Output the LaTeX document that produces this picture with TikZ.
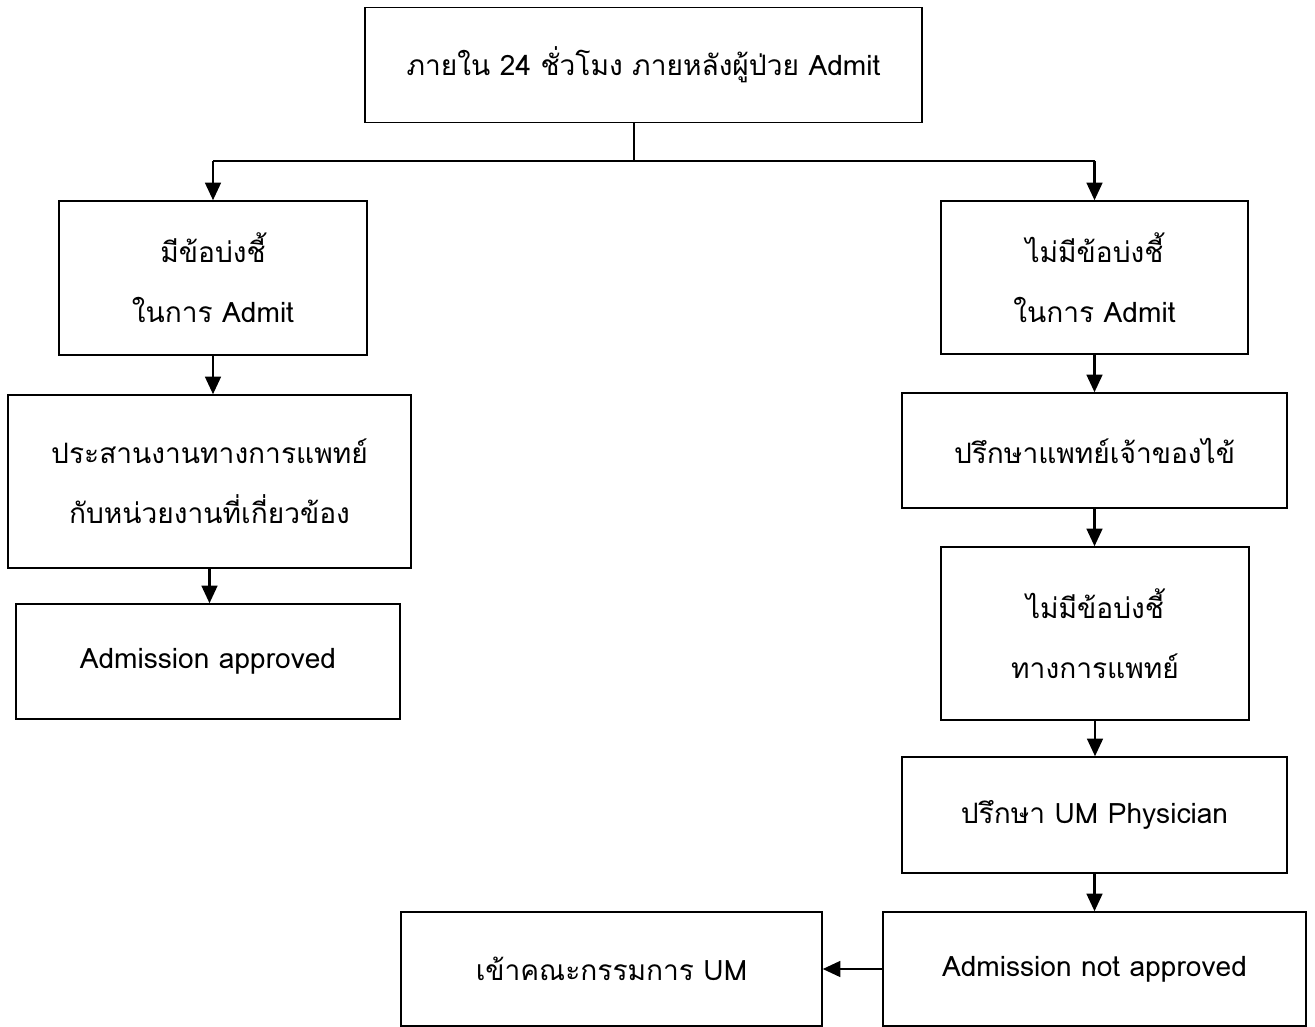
\documentclass[tikz,border=0pt]{standalone}
\usepackage{fontspec}
\usepackage{tikz}
\usetikzlibrary{positioning, arrows.meta}
\newfontfamily\thaifont[Script=Thai]{Loma}

\begin{document}
\begin{tikzpicture}[x=0.02cm, y=-0.02cm,
    box/.style={draw, line width=0.9pt, align=center, inner sep=0pt,
        font=\thaifont\fontsize{16}{34}\selectfont},
    flow/.style={-{Triangle[width=9pt, length=10pt]}, line width=1.2pt}]
    \useasboundingbox (0,0) rectangle (1315,1027);

    \node[box, minimum width=11.14cm, minimum height=2.30cm] (start) at (643.5,65) {ภายใน 24 ชั่วโมง ภายหลังผู้ป่วย Admit};

    \node[box, minimum width=6.16cm, minimum height=3.08cm] (yes) at (213,278) {มีข้อบ่งชี้\\ในการ Admit};
    \node[box, minimum width=8.06cm, minimum height=3.46cm] (coord) at (209.5,481.5) {ประสานงานทางการแพทย์\\กับหน่วยงานที่เกี่ยวข้อง};
    \node[box, minimum width=7.68cm, minimum height=2.30cm] (approved) at (208,661.5) {Admission approved};

    \node[box, minimum width=6.14cm, minimum height=3.06cm] (no) at (1094.5,277.5) {ไม่มีข้อบ่งชี้\\ในการ Admit};
    \node[box, minimum width=7.70cm, minimum height=2.30cm] (owner) at (1094.5,450.5) {ปรึกษาแพทย์เจ้าของไข้};
    \node[box, minimum width=6.16cm, minimum height=3.46cm] (nomed) at (1095,633.5) {ไม่มีข้อบ่งชี้\\ทางการแพทย์};
    \node[box, minimum width=7.70cm, minimum height=2.32cm] (umdoc) at (1094.5,815) {ปรึกษา UM Physician};
    \node[box, minimum width=8.46cm, minimum height=2.28cm] (rejected) at (1094.5,969) {Admission not approved};
    \node[box, minimum width=8.42cm, minimum height=2.28cm] (board) at (611.5,969) {เข้าคณะกรรมการ UM};

    \coordinate (fork) at (634,161);
    \draw[line width=0.7pt] (fork |- start.south) -- (fork);
    \draw[line width=0.7pt] (yes.north |- fork) -- (no.north |- fork);
    \draw[flow] (yes.north |- fork) -- (yes.north);
    \draw[flow] (no.north |- fork) -- (no.north);

    \draw[flow] (yes.south) -- (yes.south |- coord.north);
    \draw[flow] (coord.south) -- (coord.south |- approved.north);

    \draw[flow] (no.south) -- (no.south |- owner.north);
    \draw[flow] (owner.south) -- (owner.south |- nomed.north);
    \draw[flow] (nomed.south) -- (nomed.south |- umdoc.north);
    \draw[flow] (umdoc.south) -- (umdoc.south |- rejected.north);
    \draw[flow] (rejected.west) -- (board.east);
\end{tikzpicture}
\end{document}
